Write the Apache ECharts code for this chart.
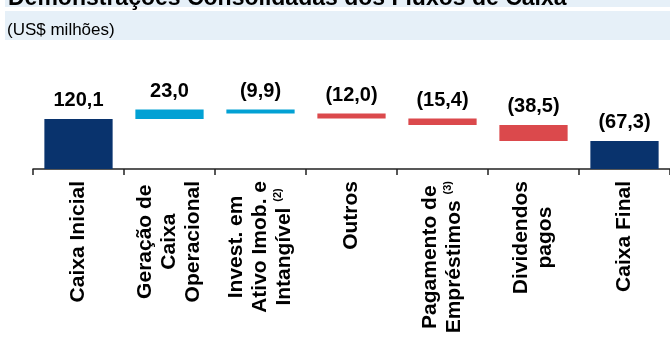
<!DOCTYPE html>
<html>
<head>
<meta charset="utf-8">
<script src="https://cdn.jsdelivr.net/npm/echarts@6/dist/echarts.min.js"></script>
<style>
html,body{margin:0;padding:0;background:#fff}
#chart{width:670px;height:338px}
</style>
</head>
<body>
<div id="chart"></div>
<script>
// dados
var categorias = ['Caixa Inicial', 'Geração de\nCaixa\nOperacional', 'Invest. em\nAtivo Imob. e\nIntangível', 'Outros', 'Pagamento de\nEmpréstimos', 'Dividendos\npagos', 'Caixa Final'];
var notas = ['', '', '(2)', '', '(3)', '', ''];
var valores = [120.1, 23.0, -9.9, -12.0, -15.4, -38.5, 67.3];
var rotulos = ['120,1', '23,0', '(9,9)', '(12,0)', '(15,4)', '(38,5)', '(67,3)'];
var grupos = ['saldo', 'operacional', 'operacional', 'saida', 'saida', 'saida', 'saldo'];

var cores = {saldo: '#09336d', operacional: '#02a1d4', saida: '#db494c'};
var fonte = '"Liberation Sans", Arial, sans-serif';

// base invisivel + barra visivel (cascata)
var base = [], altura = [];
var acumulado = 0;
for (var i = 0; i < valores.length; i++) {
    var v = valores[i];
    if (grupos[i] == 'saldo') {
        base.push(0);
        altura.push(Math.abs(v));
        acumulado = v;
    } else if (v >= 0) {
        base.push(acumulado);
        altura.push(v);
        acumulado += v;
    } else {
        acumulado += v;
        base.push(acumulado);
        altura.push(-v);
    }
}

var chart = echarts.init(document.getElementById('chart'));
chart.setOption({
    animation: false,
    graphic: [
        {type: 'rect', shape: {x: 5, y: 0, width: 665, height: 7}, style: {fill: '#e6f0f8'}},
        {type: 'rect', shape: {x: 5, y: 11, width: 665, height: 29}, style: {fill: '#e6f0f8'}},
        {type: 'text', x: 8, y: -13, style: {text: 'Demonstrações Consolidadas dos Fluxos de Caixa', font: 'bold 23px ' + fonte, fill: '#000'}},
        {type: 'text', x: 7, y: 22, style: {text: '(US$ milhões)', font: '17px ' + fonte, fill: '#000'}}
    ],
    grid: {left: 33, right: 0, top: 69, bottom: 169, outerBoundsMode: 'none'},
    xAxis: {
        type: 'category',
        data: categorias,
        axisLine: {lineStyle: {color: '#222', width: 1.5}},
        axisTick: {show: true, length: 6, lineStyle: {color: '#222', width: 1.5}},
        axisLabel: {
            interval: 0,
            rotate: 90,
            margin: 12,
            formatter: function (value, idx) {
                var linhas = value.split('\n');
                var out = [];
                for (var k = 0; k < linhas.length; k++) {
                    var s = '{c|' + linhas[k] + (k == linhas.length - 1 && notas[idx] ? ' ' : '') + '}';
                    if (k == linhas.length - 1 && notas[idx]) s += '{s|' + notas[idx] + '}';
                    out.push(s);
                }
                return out.join('\n');
            },
            rich: {
                c: {fontFamily: fonte, fontWeight: 'bold', fontSize: 21, lineHeight: 24, color: '#000', align: 'center'},
                s: {fontFamily: fonte, fontWeight: 'bold', fontSize: 11, lineHeight: 24, color: '#000', align: 'center', verticalAlign: 'top'}
            }
        }
    },
    yAxis: {type: 'value', min: 0, max: 240, show: false, splitLine: {show: false}},
    series: [{
        name: 'base',
        type: 'bar',
        stack: 'cascata',
        barWidth: '75%',
        itemStyle: {color: 'transparent'},
        data: base
    }, {
        name: 'valor',
        type: 'bar',
        stack: 'cascata',
        barWidth: '75%',
        data: altura.map(function (h, i) {
            return {value: h, itemStyle: {color: cores[grupos[i]]}};
        }),
        label: {
            show: true,
            position: 'top',
            distance: 8,
            formatter: function (p) { return rotulos[p.dataIndex]; },
            fontFamily: fonte,
            fontWeight: 'bold',
            fontSize: 20,
            color: '#000'
        }
    }]
});
</script>
</body>
</html>
